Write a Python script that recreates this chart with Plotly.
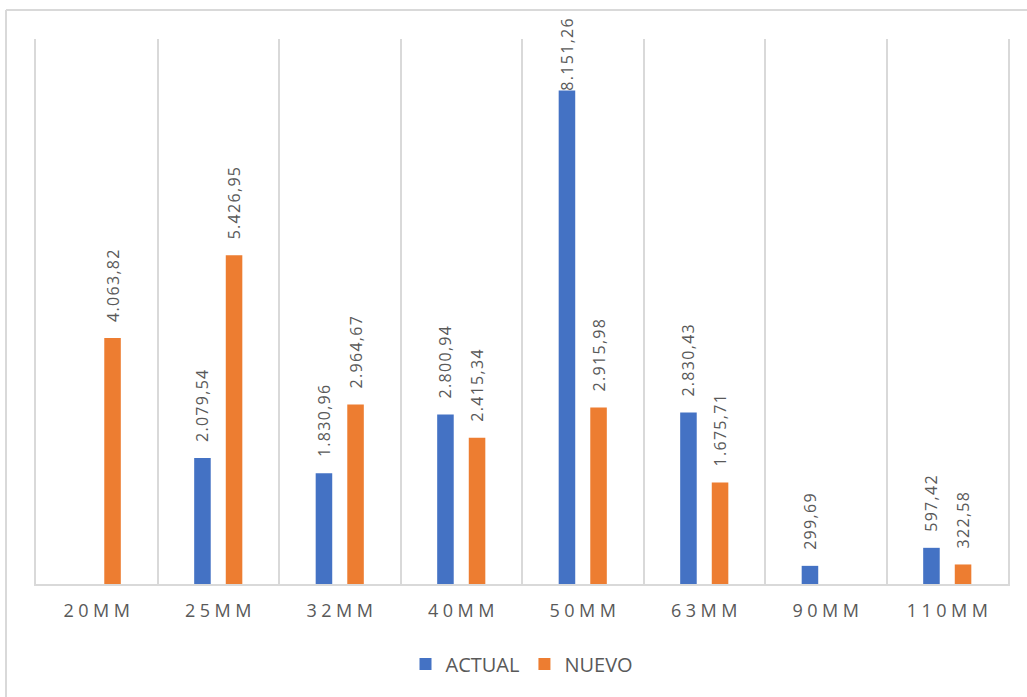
import plotly.graph_objects as go

categories = ["20MM", "25MM", "32MM", "40MM", "50MM", "63MM", "90MM", "110MM"]
actual = [None, 2079.54, 1830.96, 2800.94, 8151.26, 2830.43, 299.69, 597.42]
nuevo = [4063.82, 5426.95, 2964.67, 2415.34, 2915.98, 1675.71, None, 322.58]
series_names = ["ACTUAL", "NUEVO"]

BLUE = "#4472C4"
ORANGE = "#ED7D31"
GRID = "#D9D9D9"
TEXT = "#595959"
FONT = "Open Sans"

fig = go.Figure()
for name, vals, col in [(series_names[0], actual, BLUE), (series_names[1], nuevo, ORANGE)]:
    fig.add_trace(go.Bar(
        name=name, x=categories, y=vals, marker=dict(color=col, line=dict(width=0)),
        texttemplate="%{y:,.2f}", textposition="outside", textangle=-90,
        textfont=dict(family=FONT, size=16, color=TEXT),
        constraintext="none", cliponaxis=False,
    ))

W, H = 1027, 697
ml, mr, mt, mb = 36, 19, 39, 113
pw, ph = W - ml - mr, H - mt - mb
bx = (6 - ml) / pw
by = 1 + (mt - 10) / ph

fig.update_layout(
    width=W, height=H, autosize=False,
    margin=dict(l=ml, r=mr, t=mt, b=mb),
    paper_bgcolor="white", plot_bgcolor="white",
    separators=",.",
    barmode="group", bargap=0.48, bargroupgap=0.476,
    font=dict(family=FONT, color=TEXT),
    xaxis=dict(
        type="category", tickson="boundaries", showgrid=True, gridcolor=GRID, gridwidth=1.5,
        showline=True, linecolor=GRID, linewidth=1.5, ticks="", zeroline=False,
        tickfont=dict(family=FONT, size=18, color=TEXT), ticklabelstandoff=10,
    ),
    yaxis=dict(range=[0, 9000], showgrid=False, zeroline=False, showticklabels=False,
               ticks="", showline=True, mirror=True, linecolor=GRID, linewidth=1.5),
    legend=dict(
        orientation="h", x=0.5, xanchor="center", y=-0.147, yanchor="middle",
        font=dict(family=FONT, size=20, color=TEXT), bgcolor="rgba(0,0,0,0)",
    ),
    shapes=[
        dict(type="line", xref="paper", yref="paper", x0=bx, x1=bx, y0=-0.5, y1=by,
             line=dict(color=GRID, width=2)),
        dict(type="line", xref="paper", yref="paper", x0=bx, x1=1.1, y0=by, y1=by,
             line=dict(color=GRID, width=2)),
    ],
)

post = """
var gd = document.getElementById('{plot_id}');
var top0 = gd.getBoundingClientRect().top;
gd.querySelectorAll('text.bartext').forEach(function(t){
  var b0 = t.getBoundingClientRect();
  t.style.letterSpacing = '1.3px';
  var b1 = t.getBoundingClientRect();
  var dy = (b1.bottom - b0.bottom) + 13;
  var newTop = b1.top - dy - top0;
  if (newTop < 17) { dy -= (17 - newTop); }
  t.setAttribute('transform', 'translate(0,' + (-dy) + ') ' + (t.getAttribute('transform') || ''));
});
gd.querySelectorAll('.xtick text').forEach(function(t){
  t.style.letterSpacing = '4.5px';
  t.setAttribute('transform', 'translate(2.25,0) ' + (t.getAttribute('transform') || ''));
});
"""

fig.write_html("out.html", post_script=post, config={"displayModeBar": False})
